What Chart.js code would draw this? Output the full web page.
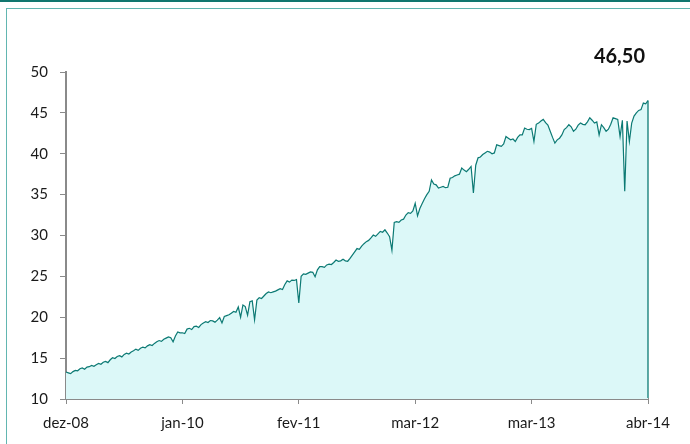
<!DOCTYPE html>
<html lang="pt">
  <head>
    <meta charset="UTF-8" />
    <title>Cotação</title>
    <script src="https://cdn.jsdelivr.net/npm/chart.js@4.4.1/dist/chart.umd.min.js"></script>
    <style>
      body {
        margin: 0;
        background: #fff;
        overflow: hidden;
      }
      .topLine {
        position: absolute;
        left: 0;
        top: 0;
        width: 690px;
        height: 2px;
        background: #11766f;
      }
      .frame {
        position: absolute;
        left: 6px;
        top: 8px;
        width: 700px;
        height: 460px;
        border: 1px solid #62b6b1;
      }
      #wrap {
        position: absolute;
        left: 0;
        top: 0;
        width: 690px;
        height: 444px;
      }
    </style>
  </head>
  <body>
    <div class="topLine"></div>
    <div class="frame"></div>
    <div id="wrap"><canvas id="priceChart"></canvas></div>

    <script>
      // tick labels shown every 50 points
      const tickLabels = ["dez-08", "jan-10", "fev-11", "mar-12", "mar-13", "abr-14"];
      const tickEvery = 50;

      // price series
      const prices = [
        13.3, 13.2, 13.1, 13.35, 13.5, 13.45, 13.7, 13.8, 13.65, 13.9,
        13.95, 14.1, 14.0, 14.2, 14.35, 14.25, 14.5, 14.6, 14.45, 14.8,
        15.05, 14.95, 15.2, 15.3, 15.15, 15.45, 15.6, 15.5, 15.75, 15.9,
        16.1, 15.95, 16.2, 16.35, 16.25, 16.5, 16.65, 16.55, 16.8, 17.0,
        17.15, 17.05, 17.3, 17.45, 17.6, 17.5, 17.0, 17.7, 18.2, 18.1,
        18.1, 18.0, 18.55, 18.65, 18.5, 18.85, 18.9, 18.75, 19.1, 19.3,
        19.45, 19.35, 19.6, 19.55, 19.4, 19.65, 19.95, 19.3, 20.1, 20.2,
        20.3, 20.5, 20.7, 20.6, 21.25, 20.0, 21.5, 21.3, 20.25, 21.9,
        22.0, 19.7, 22.1, 22.4, 22.3, 22.6, 22.9, 23.1, 23.0, 23.1,
        23.2, 23.35, 23.5, 23.4, 24.0, 24.45, 24.3, 24.55, 24.5, 24.6,
        21.75, 25.0, 25.3, 25.25, 25.4, 25.55, 25.5, 24.95, 25.8, 26.2,
        26.2, 26.1, 26.4, 26.5, 26.45, 26.7, 27.0, 26.85, 26.9, 27.1,
        26.9, 26.85, 27.2, 27.6, 28.0, 28.4, 28.3, 28.7, 29.0, 29.25,
        29.4, 29.7, 30.05, 29.9, 30.2, 30.5, 30.4, 30.7, 30.3, 29.85,
        28.2, 31.6, 31.7, 31.6, 31.9, 32.0, 32.5, 32.8, 32.7, 33.0,
        33.95, 32.4, 33.3, 33.9, 34.5, 35.0, 35.4, 36.8, 36.3, 36.2,
        35.8, 35.9, 36.0, 35.85, 35.9, 37.0, 37.1, 37.3, 37.4, 37.5,
        38.25, 38.0, 37.8, 38.1, 38.45, 35.2, 38.6, 39.5, 39.6, 39.9,
        40.1, 40.3, 40.2, 40.0, 40.1, 41.1, 41.0, 40.9, 41.2, 42.1,
        41.9, 41.7, 41.8, 41.5, 42.0, 42.3, 42.3, 43.15, 43.0, 42.95,
        43.1, 41.5, 43.6, 43.75, 44.0, 44.2, 43.8, 43.5, 42.75, 42.0,
        41.3, 41.7, 41.9, 42.3, 42.95, 43.2, 43.55, 43.3, 42.75, 43.0,
        43.5, 43.75, 43.6, 43.55, 43.9, 44.4, 44.1, 43.75, 43.9, 42.3,
        43.55, 43.2, 42.75, 43.0, 43.6, 44.4, 44.3, 44.2, 42.1, 44.1,
        35.4, 44.0, 41.5, 43.75, 44.6, 45.0, 45.3, 45.4, 46.2, 46.1,
        46.5,
      ];

      const labels = prices.map((v, i) => i);
      const lineColor = "#0c7a74";
      const axisColor = "#8a8a8a";
      const fontFamily = "Lato, 'Open Sans', sans-serif";

      // right edge of the area + value label over the last point
      const lastValuePlugin = {
        id: "lastValue",
        afterDatasetsDraw(chart) {
          const ctx = chart.ctx;
          const xs = chart.scales.x;
          const ys = chart.scales.y;
          const last = prices.length - 1;
          const x = xs.getPixelForValue(last);
          ctx.save();
          ctx.strokeStyle = lineColor;
          ctx.lineWidth = 1.3;
          ctx.beginPath();
          ctx.moveTo(x, ys.getPixelForValue(prices[last]));
          ctx.lineTo(x, ys.getPixelForValue(ys.min) - 1);
          ctx.stroke();
          ctx.fillStyle = "#111";
          ctx.font = "bold 20px " + fontFamily;
          ctx.textAlign = "right";
          ctx.textBaseline = "middle";
          ctx.fillText(prices[last].toFixed(2).replace(".", ","), x - 3, chart.chartArea.top - 15);
          ctx.restore();
        },
      };

      new Chart(document.getElementById("priceChart"), {
        type: "line",
        data: {
          labels: labels,
          datasets: [
            {
              data: prices,
              borderColor: lineColor,
              borderWidth: 1.2,
              backgroundColor: "#dcf8f8",
              fill: "start",
              pointRadius: 0,
              tension: 0,
            },
          ],
        },
        options: {
          responsive: true,
          maintainAspectRatio: false,
          animation: false,
          layout: { padding: { left: 0, right: 42, top: 72, bottom: 0 } },
          plugins: { legend: { display: false }, tooltip: { enabled: false } },
          scales: {
            x: {
              type: "category",
              offset: false,
              afterFit(scale) {
                scale.height = 45;
              },
              border: { color: axisColor, width: 2 },
              grid: { drawOnChartArea: false, drawTicks: true, tickLength: 5, color: axisColor },
              ticks: {
                autoSkip: false,
                maxRotation: 0,
                padding: 10,
                color: "#1a1a1a",
                font: { family: fontFamily, size: 15 },
                callback: (v, i) => (i % tickEvery === 0 ? tickLabels[i / tickEvery] : null),
              },
            },
            y: {
              min: 10,
              max: 50,
              afterFit(scale) {
                scale.width = 66;
              },
              border: { color: axisColor, width: 2 },
              grid: { drawOnChartArea: false, drawTicks: true, tickLength: 6, color: axisColor },
              ticks: {
                stepSize: 5,
                padding: 12,
                color: "#1a1a1a",
                font: { family: fontFamily, size: 15 },
              },
            },
          },
        },
        plugins: [lastValuePlugin],
      });
    </script>
  </body>
</html>
